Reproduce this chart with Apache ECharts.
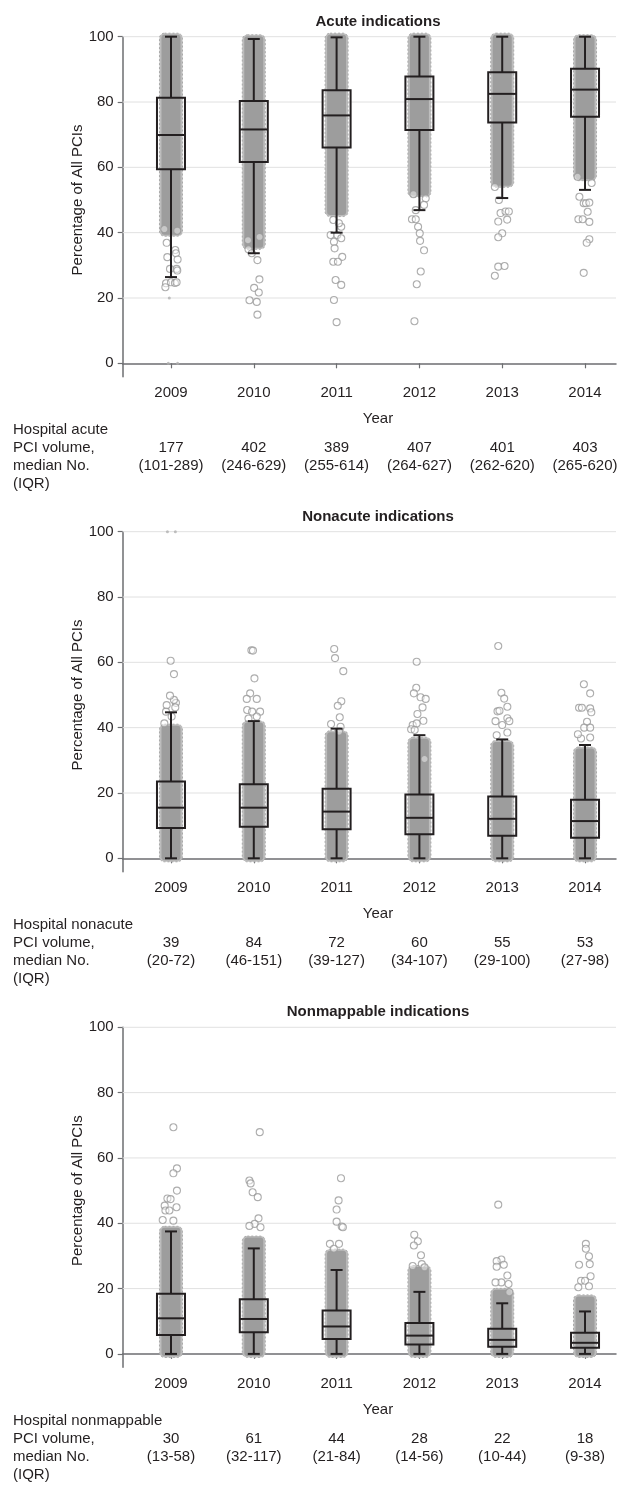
<!DOCTYPE html>
<html>
<head>
<meta charset="utf-8">
<title>PCI indications by year</title>
<script src="https://cdn.jsdelivr.net/npm/echarts@6/dist/echarts.min.js"></script>
<style>
  html, body { margin: 0; padding: 0; background: #ffffff; }
  #chart { width: 618px; height: 1490px; }
</style>
</head>
<body>
<div id="chart"></div>
<script>
// ---- data ----
const years = [2009, 2010, 2011, 2012, 2013, 2014];
const yTicks = [0, 20, 40, 60, 80, 100];
const gridValues = [20, 40, 60, 80, 100];

const panelTitles = ['Acute indications', 'Nonacute indications', 'Nonmappable indications'];
const tableHeads = [
  ['Hospital acute', 'PCI volume,', 'median No.', '(IQR)'],
  ['Hospital nonacute', 'PCI volume,', 'median No.', '(IQR)'],
  ['Hospital nonmappable', 'PCI volume,', 'median No.', '(IQR)']
];
const acuteVolume = ['177', '402', '389', '407', '401', '403'];
const acuteVolumeIqr = ['(101-289)', '(246-629)', '(255-614)', '(264-627)', '(262-620)', '(265-620)'];
const nonacuteVolume = ['39', '84', '72', '60', '55', '53'];
const nonacuteVolumeIqr = ['(20-72)', '(46-151)', '(39-127)', '(34-107)', '(29-100)', '(27-98)'];
const nonmapVolume = ['30', '61', '44', '28', '22', '18'];
const nonmapVolumeIqr = ['(13-58)', '(32-117)', '(21-84)', '(14-56)', '(10-44)', '(9-38)'];

// box stats per year: [low whisker, Q1, median, Q3, high whisker]
const acuteBox = [
  [26.4, 59.4, 69.9, 81.3, 100], [33.7, 61.6, 71.6, 80.3, 99.3], [40.0, 66.1, 75.9, 83.6, 99.8],
  [46.9, 71.4, 80.9, 87.8, 100], [50.6, 73.7, 82.5, 89.1, 100], [53.1, 75.5, 83.8, 90.2, 100]
];
const nonacuteBox = [
  [0, 9.3, 15.5, 23.5, 44.7], [0, 9.7, 15.5, 22.7, 42.0], [0, 8.9, 14.3, 21.3, 39.7],
  [0, 7.4, 12.4, 19.5, 37.7], [0, 6.9, 12.1, 18.9, 36.4], [0, 6.3, 11.4, 17.9, 34.7]
];
const nonmapBox = [
  [0, 5.8, 10.9, 18.4, 37.5], [0, 6.6, 10.7, 16.7, 32.3], [0, 4.6, 8.4, 13.3, 25.7],
  [0, 2.9, 5.6, 9.5, 19.0], [0, 2.2, 4.3, 7.7, 15.5], [0, 1.9, 3.4, 6.5, 13.0]
];

// range where the hospital points overlap into a solid cloud: [low, high]
const acuteCloud = [[40, 100], [36, 99.5], [46, 100], [52, 100], [55, 100], [57, 99.5]];
const nonacuteCloud = [[0, 40], [0, 41], [0, 38], [0, 36], [0, 35], [0, 33]];
const nonmapCloud = [[0, 38], [0, 35], [0, 31], [0, 26], [0, 19], [0, 17]];

// separate hospitals outside the cloud: [year, jitter, percentage]
const acutePoints = [
  [2009, -0.08, 41.1], [2009, 0.076, 40.6], [2009, -0.052, 36.9], [2009, 0.052, 34.7], [2009, 0.06, 33.7],
  [2009, -0.044, 32.5], [2009, 0.08, 31.8], [2009, -0.012, 28.9], [2009, 0.068, 28.9], [2009, 0.076, 28.4],
  [2009, -0.06, 24.5], [2009, 0, 24.8], [2009, 0.048, 24.6], [2009, 0.068, 24.8], [2009, -0.068, 23.3],
  [2010, -0.07, 37.7], [2010, 0.07, 38.7], [2010, -0.064, 34.9], [2010, -0.024, 33.7], [2010, 0.044, 31.6],
  [2010, 0.068, 25.7], [2010, 0.004, 23.1], [2010, 0.06, 21.7], [2010, -0.052, 19.3], [2010, 0.036, 18.8],
  [2010, 0.044, 14.9],
  [2011, -0.04, 43.9], [2011, 0.056, 41.8], [2011, 0.028, 42.9], [2011, -0.072, 39.3], [2011, 0.008, 39.3],
  [2011, 0.056, 38.3], [2011, -0.032, 37.2], [2011, -0.024, 35.2], [2011, 0.068, 32.6], [2011, -0.04, 31.1],
  [2011, 0.016, 31.1], [2011, -0.012, 25.5], [2011, 0.056, 24.0], [2011, -0.032, 19.4], [2011, 0, 12.6],
  [2012, -0.072, 51.8], [2012, 0.076, 50.5], [2012, 0.056, 48.5], [2012, -0.044, 46.9], [2012, -0.09, 44.1],
  [2012, -0.044, 44.1], [2012, -0.016, 41.8], [2012, 0.004, 39.8], [2012, 0.008, 37.5], [2012, 0.056, 34.6],
  [2012, 0.016, 28.1], [2012, -0.032, 24.2], [2012, -0.06, 12.9],
  [2013, -0.089, 54.0], [2013, -0.04, 50.0], [2013, -0.02, 46.0], [2013, 0.04, 46.5], [2013, 0.08, 46.5],
  [2013, -0.048, 43.4], [2013, 0.06, 44.0], [2013, 0, 39.8], [2013, -0.048, 38.6], [2013, -0.048, 29.6],
  [2013, 0.028, 29.8], [2013, -0.089, 26.8],
  [2014, -0.09, 57.1], [2014, 0.08, 55.2], [2014, -0.068, 51.0], [2014, -0.016, 49.0], [2014, 0.012, 49.0],
  [2014, 0.052, 49.2], [2014, 0.032, 46.4], [2014, -0.08, 44.1], [2014, -0.028, 44.1], [2014, 0.052, 43.3],
  [2014, 0.052, 38.0], [2014, 0.02, 36.9], [2014, -0.016, 27.7]
];
const acuteTiny = [[2009, -0.02, 20], [2009, -0.032, 0], [2009, 0.08, 0]];

const nonacutePoints = [
  [2009, -0.004, 60.5], [2009, 0.036, 56.4], [2009, -0.052, 46.9], [2009, 0.06, 47.6], [2009, 0.036, 48.5],
  [2009, -0.08, 41.3], [2009, -0.06, 44.9], [2009, 0.052, 46.2], [2009, 0.008, 43.4], [2009, -0.012, 49.8],
  [2010, -0.029, 63.7], [2010, -0.01, 63.6], [2010, 0.008, 55.1], [2010, -0.044, 50.5], [2010, -0.085, 48.8],
  [2010, 0.036, 48.8], [2010, -0.08, 45.4], [2010, -0.02, 44.9], [2010, 0.076, 44.9], [2010, -0.064, 42.8],
  [2010, 0.036, 43.4],
  [2011, -0.029, 64.1], [2011, -0.019, 61.3], [2011, 0.081, 57.3], [2011, 0.057, 48.1], [2011, 0.014, 46.7],
  [2011, 0.038, 43.2], [2011, -0.067, 41.1], [2011, 0.048, 40.3], [2011, 0.029, 38.8],
  [2012, -0.033, 60.2], [2012, -0.038, 52.2], [2012, -0.067, 50.5], [2012, 0.014, 49.3], [2012, 0.076, 48.8],
  [2012, 0.038, 46.2], [2012, -0.024, 44.2], [2012, 0.048, 42.1], [2012, -0.081, 40.8], [2012, -0.033, 41.3],
  [2012, -0.1, 39.5], [2012, -0.057, 39.3], [2012, 0.062, 30.4],
  [2013, -0.048, 65.0], [2013, -0.01, 50.7], [2013, 0.024, 48.9], [2013, 0.062, 46.4], [2013, -0.057, 45.0],
  [2013, -0.033, 45.2], [2013, 0.062, 42.9], [2013, -0.081, 42.0], [2013, 0.086, 42.0], [2013, 0, 40.8],
  [2013, 0.062, 38.5], [2013, -0.067, 37.7],
  [2014, -0.014, 53.3], [2014, 0.062, 50.5], [2014, -0.072, 46.1], [2014, -0.038, 46.1], [2014, 0.062, 45.9],
  [2014, 0.076, 44.7], [2014, 0.024, 41.8], [2014, -0.01, 40.0], [2014, 0.062, 40.0], [2014, -0.048, 36.7],
  [2014, 0.062, 37.0], [2014, -0.086, 38.0]
];
const nonacuteTiny = [[2009, -0.043, 100], [2009, 0.053, 100]];

const nonmapPoints = [
  [2009, 0.029, 69.4], [2009, 0.072, 56.8], [2009, 0.029, 55.3], [2009, 0.072, 50.0], [2009, -0.043, 47.6],
  [2009, -0.005, 47.4], [2009, -0.076, 45.4], [2009, 0.067, 44.9], [2009, -0.067, 43.9], [2009, -0.019, 43.9],
  [2009, -0.1, 41.0], [2009, 0.029, 40.8],
  [2010, 0.072, 67.9], [2010, -0.053, 53.1], [2010, -0.038, 52.2], [2010, -0.014, 49.5], [2010, 0.048, 48.0],
  [2010, 0.057, 41.5], [2010, 0.01, 39.8], [2010, -0.053, 39.2], [2010, 0.081, 38.8],
  [2011, 0.053, 53.8], [2011, 0.024, 47.0], [2011, 0, 44.2], [2011, 0, 40.5], [2011, 0.062, 39.0],
  [2011, 0.076, 38.8], [2011, -0.081, 33.7], [2011, 0.029, 33.7], [2011, -0.033, 32.2],
  [2012, -0.062, 36.5], [2012, -0.019, 34.5], [2012, -0.067, 33.2], [2012, 0.019, 30.2], [2012, 0.029, 27.5],
  [2012, -0.081, 26.9], [2012, 0.062, 26.5],
  [2013, -0.048, 45.7], [2013, -0.01, 28.9], [2013, -0.067, 28.4], [2013, 0.019, 27.3], [2013, -0.067, 26.7],
  [2013, 0.062, 24.0], [2013, -0.01, 21.9], [2013, -0.081, 21.9], [2013, 0.086, 18.9], [2013, 0.076, 21.4],
  [2014, 0.01, 33.7], [2014, 0.01, 32.2], [2014, 0.048, 29.9], [2014, -0.072, 27.3], [2014, 0.057, 27.5],
  [2014, 0.067, 23.8], [2014, -0.048, 22.4], [2014, 0, 22.4], [2014, 0.048, 20.7], [2014, -0.081, 20.4]
];
const nonmapTiny = [];

// ---- layout ----
const FONT = "'Liberation Sans', Arial, sans-serif";
const INK = '#231f20';
const AXIS = '#6d6e71';
const GRIDLINE = '#e1e1e1';
const CLOUD = '#9d9d9d';
const CLOUD_EDGE = '#bdbdbd';
const plotTops = [36.7, 531.7, 1027.3];
const plotHeight = 340;
const plotLeft = 122.7;
const xMin = 2008.417;
const xMax = 2014.374;
const yMin = -4.1;

const panels = [
  { box: acuteBox, cloud: acuteCloud, points: acutePoints, tiny: acuteTiny, vol: acuteVolume, iqr: acuteVolumeIqr },
  { box: nonacuteBox, cloud: nonacuteCloud, points: nonacutePoints, tiny: nonacuteTiny, vol: nonacuteVolume, iqr: nonacuteVolumeIqr },
  { box: nonmapBox, cloud: nonmapCloud, points: nonmapPoints, tiny: nonmapTiny, vol: nonmapVolume, iqr: nonmapVolumeIqr }
];

const grids = [], xAxes = [], yAxes = [], series = [], graphics = [];

function gridLinesItem(params, api) {
  const cs = params.coordSys;
  const p = api.coord([xMin, api.value(1)]);
  return {
    type: 'line',
    shape: { x1: cs.x, y1: p[1], x2: cs.x + cs.width, y2: p[1] },
    style: { stroke: GRIDLINE, lineWidth: 1 }
  };
}

// solid cloud with a lighter, dotted rim like the overlapping circle outlines
function cloudItem(params, api) {
  const x = api.value(0);
  const top = api.coord([x, api.value(2)]);
  const bot = api.coord([x, api.value(1)]);
  const h = bot[1] - top[1];
  return {
    type: 'group',
    children: [
      {
        type: 'rect',
        shape: { x: top[0] - 11.5, y: top[1] - 3.5, width: 23, height: h + 7, r: 5 },
        style: { fill: CLOUD_EDGE, stroke: '#a9a9a9', lineWidth: 1, lineDash: [2, 2] }
      },
      {
        type: 'rect',
        shape: { x: top[0] - 9.5, y: top[1] - 2, width: 19, height: h + 4, r: 3 },
        style: { fill: CLOUD }
      }
    ]
  };
}

function boxItem(params, api) {
  const x = api.value(0);
  const lo = api.coord([x, api.value(1)]);
  const q1 = api.coord([x, api.value(2)]);
  const md = api.coord([x, api.value(3)]);
  const q3 = api.coord([x, api.value(4)]);
  const hi = api.coord([x, api.value(5)]);
  const cx = lo[0];
  const st = { stroke: INK, lineWidth: 2, fill: null };
  return {
    type: 'group',
    children: [
      { type: 'line', shape: { x1: cx, y1: lo[1], x2: cx, y2: q1[1] }, style: st },
      { type: 'line', shape: { x1: cx, y1: q3[1], x2: cx, y2: hi[1] }, style: st },
      { type: 'line', shape: { x1: cx - 6, y1: lo[1], x2: cx + 6, y2: lo[1] }, style: st },
      { type: 'line', shape: { x1: cx - 6, y1: hi[1], x2: cx + 6, y2: hi[1] }, style: st },
      { type: 'rect', shape: { x: cx - 14, y: q3[1], width: 28, height: q1[1] - q3[1] }, style: st },
      { type: 'line', shape: { x1: cx - 14, y1: md[1], x2: cx + 14, y2: md[1] }, style: st }
    ]
  };
}

panels.forEach((p, i) => {
  const top = plotTops[i];
  const axisY = top + plotHeight;
  grids.push({ left: plotLeft, right: 2, top: top, height: plotHeight });
  xAxes.push({
    type: 'value', gridIndex: i, min: xMin, max: xMax,
    axisLine: { show: true, lineStyle: { color: AXIS, width: 1.5 } },
    axisTick: { show: true, length: 5, customValues: years, lineStyle: { color: AXIS, width: 1.2 } },
    axisLabel: { customValues: years, margin: 9, fontSize: 15, color: INK, fontFamily: FONT, formatter: v => String(v) },
    splitLine: { show: false }
  });
  yAxes.push({
    type: 'value', gridIndex: i, min: yMin, max: 100,
    axisLine: { show: true, lineStyle: { color: AXIS, width: 1.5 } },
    axisTick: { show: true, length: 5, customValues: yTicks, lineStyle: { color: AXIS, width: 1.2 } },
    axisLabel: { customValues: yTicks, margin: 9, fontSize: 15, color: INK, fontFamily: FONT, formatter: v => String(v) },
    splitLine: { show: false }
  });

  series.push({
    type: 'custom', xAxisIndex: i, yAxisIndex: i, z: 1, silent: true,
    renderItem: gridLinesItem,
    data: gridValues.map(v => [xMin, v])
  });
  series.push({
    type: 'custom', xAxisIndex: i, yAxisIndex: i, z: 2, silent: true, clip: false,
    renderItem: cloudItem,
    data: p.cloud.map((c, k) => [years[k], c[0], c[1]])
  });
  series.push({
    type: 'scatter', xAxisIndex: i, yAxisIndex: i, z: 3, silent: true,
    symbol: 'circle', symbolSize: 7,
    itemStyle: { color: 'rgba(255,255,255,0.55)', borderColor: '#999999', borderWidth: 1.1 },
    data: p.points.map(d => [d[0] + d[1], d[2]])
  });
  series.push({
    type: 'scatter', xAxisIndex: i, yAxisIndex: i, z: 3, silent: true,
    symbol: 'circle', symbolSize: 3,
    itemStyle: { color: '#b0b0b0' },
    data: p.tiny.map(d => [d[0] + d[1], d[2]])
  });
  series.push({
    type: 'custom', xAxisIndex: i, yAxisIndex: i, z: 5, silent: true, clip: false,
    renderItem: boxItem,
    data: p.box.map((b, k) => [years[k]].concat(b))
  });

  // text: title, y name, x name and the volume table
  const dataCenterX = 378;
  graphics.push({ type: 'text', x: dataCenterX, y: top - 15, style: { text: panelTitles[i], font: 'bold 15px ' + FONT, fill: INK, align: 'center', verticalAlign: 'middle' } });
  graphics.push({ type: 'text', x: 78, y: top + 163.3, rotation: Math.PI / 2, style: { text: 'Percentage of All PCIs', font: '15px ' + FONT, fill: INK, align: 'center', verticalAlign: 'middle' } });
  graphics.push({ type: 'text', x: dataCenterX, y: axisY + 42.5, style: { text: 'Year', font: '15px ' + FONT, fill: INK, align: 'center', verticalAlign: 'middle' } });
  const rowY = [axisY + 53.5, axisY + 71.5, axisY + 89.5, axisY + 107.5];
  tableHeads[i].forEach((t, r) => {
    graphics.push({ type: 'text', x: 13, y: rowY[r], style: { text: t, font: '15px ' + FONT, fill: INK, align: 'left', verticalAlign: 'middle' } });
  });
  years.forEach((yr, k) => {
    const cx = plotLeft + (yr - xMin) / (xMax - xMin) * (618 - 2 - plotLeft);
    graphics.push({ type: 'text', x: cx, y: rowY[1], style: { text: p.vol[k], font: '15px ' + FONT, fill: INK, align: 'center', verticalAlign: 'middle' } });
    graphics.push({ type: 'text', x: cx, y: rowY[2], style: { text: p.iqr[k], font: '15px ' + FONT, fill: INK, align: 'center', verticalAlign: 'middle' } });
  });
});

const chart = echarts.init(document.getElementById('chart'), null, { renderer: 'canvas' });
chart.setOption({
  animation: false,
  backgroundColor: '#ffffff',
  textStyle: { fontFamily: FONT },
  grid: grids,
  xAxis: xAxes,
  yAxis: yAxes,
  series: series,
  graphic: graphics
});
</script>
</body>
</html>
